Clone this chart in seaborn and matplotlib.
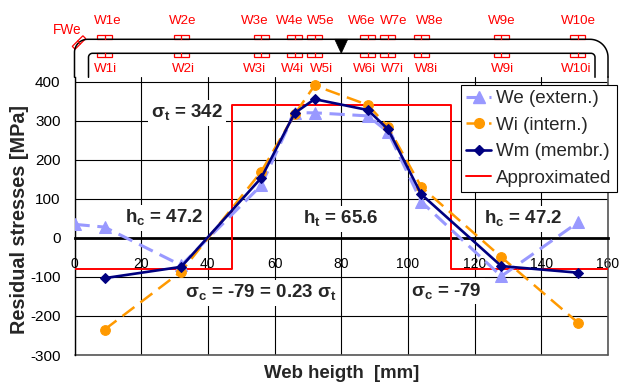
import numpy as np
import pandas as pd
import matplotlib
matplotlib.use("Agg")
import matplotlib.pyplot as plt
import seaborn as sns
from matplotlib.patches import Rectangle, Polygon
from matplotlib.lines import Line2D

# ---------------- data ----------------
x_we = [0, 9, 32, 56, 66, 72, 88, 94, 104, 128, 151]
we_vals = [35, 28, -70, 135, 321, 321, 313, 272, 93, -98, 40]
x_w = [9, 32, 56, 66, 72, 88, 94, 104, 128, 151]
wi_vals = [-235, -86, 170, 317, 391, 341, 285, 131, -49, -217]
wm_vals = [-103, -74, 154, 320, 356, 328, 279, 112, -72, -89]

h_c = 47.2
h_t = 65.6
sigma_t = 342
sigma_c = -79
approx_x = [0, h_c, h_c, h_c + h_t, h_c + h_t, 2 * h_c + h_t]
approx_y = [sigma_c, sigma_c, sigma_t, sigma_t, sigma_c, sigma_c]

gauge_names = ["W1", "W2", "W3", "W4", "W5", "W6", "W7", "W8", "W9", "W10"]
gauge_x = x_w

x_ticks = list(range(0, 161, 20))
y_ticks = list(range(-300, 401, 100))

series_labels = ["We (extern.)", "Wi (intern.)", "Wm (membr.)", "Approximated"]

# label nudges (pixels) so neighbouring gauge names do not collide
e_shift = [3, 1.5, -6, -5, 6, -6, 6, 8, 0, 0]
i_shift = [1, 2, -6.5, -2.5, 6.5, -3, 5, 5, 1.5, -2]

# ---------------- style ----------------
sns.set_style("white")
plt.rcParams["font.family"] = ["Liberation Sans", "DejaVu Sans"]
plt.rcParams["mathtext.fontset"] = "custom"
plt.rcParams["mathtext.rm"] = "Liberation Sans"
plt.rcParams["mathtext.bf"] = "Liberation Sans:bold"

W, H = 621, 386
fig = plt.figure(figsize=(W / 100, H / 100), dpi=100)
ax_l, ax_r, ax_b, ax_t = 74.5, 608, 355, 77.3
ax = fig.add_axes([ax_l / W, 1 - ax_b / H, (ax_r - ax_l) / W, (ax_b - ax_t) / H])
ax.set_facecolor("white")

c_we = "#9999FF"
c_wi = "#FF9900"
c_wm = "#000080"
c_ap = "#FF0000"

df_we = pd.DataFrame({"x": x_we, "y": we_vals})
df_w = pd.DataFrame({"x": x_w, "wi": wi_vals, "wm": wm_vals})

we_ls = (0, (5, 2.5))
wi_ls = (0, (6, 3))
sns.lineplot(data=df_we, x="x", y="y", ax=ax, color=c_we, lw=2.2,
             linestyle=we_ls, marker="^", markersize=8,
             markeredgecolor=c_we, errorbar=None, zorder=5)
sns.lineplot(data=df_w, x="x", y="wi", ax=ax, color=c_wi, lw=1.8,
             linestyle=wi_ls, marker="o", markersize=7,
             markeredgecolor=c_wi, errorbar=None, zorder=6)
sns.lineplot(data=df_w, x="x", y="wm", ax=ax, color=c_wm, lw=1.9,
             marker="D", markersize=5, markeredgecolor=c_wm,
             errorbar=None, zorder=7)
ax.plot(approx_x, approx_y, color=c_ap, lw=1.4, zorder=4)

ax.set_xlim(0, 160)
ax.set_ylim(-300, 412)
ax.set_xticks(x_ticks)
ax.set_yticks(y_ticks)
ax.set_xticklabels([str(v) for v in x_ticks], fontsize=11)
ax.set_yticklabels([str(v) for v in y_ticks], fontsize=11)
ax.grid(True, color="black", lw=0.8, zorder=0)
ax.set_axisbelow(True)
ax.axhline(-300, color="#555555", lw=1.2, clip_on=False, zorder=1)
ax.axvline(160, color="#555555", lw=1.2, clip_on=False, zorder=1)

for s in ["top", "right"]:
    ax.spines[s].set_visible(False)
ax.spines["bottom"].set_position(("data", 0))
ax.spines["bottom"].set_linewidth(2)
ax.spines["bottom"].set_color("black")
ax.spines["left"].set_linewidth(1)
ax.spines["left"].set_color("black")
ax.tick_params(axis="x", direction="out", length=4, width=1, pad=10, colors="black")
ax.tick_params(axis="y", direction="out", length=5, width=1, pad=5, colors="black")
ax.set_xlabel("")
ax.set_ylabel("")

fig.text(20 / W, 1 - 220 / H, "Residual stresses [MPa]", rotation=90,
         fontsize=14.3, fontweight="bold", ha="center", va="center")
fig.text(341.5 / W, 1 - 374 / H, "Web heigth  [mm]",
         fontsize=13.4, fontweight="bold", ha="center", va="center")

# annotations
box = dict(facecolor="white", edgecolor="none", pad=2)
akw = dict(fontsize=13.5, fontweight="bold", ha="center", va="center", zorder=3, bbox=box)
ax.text(33.7, 320, r"σ$_\mathbf{t}$ = %d" % sigma_t, **akw)
ax.text(26.8, 52, r"h$_\mathbf{c}$ = %.1f" % h_c, **akw)
ax.text(80, 48, r"h$_\mathbf{t}$ = %.1f" % h_t, **akw)
ax.text(134.6, 48, r"h$_\mathbf{c}$ = %.1f" % h_c, **akw)
ax.text(55.8, -141, r"σ$_\mathbf{c}$ = %d = %.2f σ$_\mathbf{t}$" % (sigma_c, abs(sigma_c) / sigma_t), **akw)
ax.text(111.6, -137, r"σ$_\mathbf{c}$ = %d" % sigma_c, **akw)

# legend
handles = [
    Line2D([], [], color=c_we, lw=2.2, linestyle=we_ls, marker="^", markersize=8),
    Line2D([], [], color=c_wi, lw=1.8, linestyle=wi_ls, marker="o", markersize=7),
    Line2D([], [], color=c_wm, lw=1.9, marker="D", markersize=5),
    Line2D([], [], color=c_ap, lw=1.4),
]
leg = ax.legend(handles, series_labels, loc="upper right",
                bbox_to_anchor=(616.5 / W, 1 - 85 / H), bbox_transform=fig.transFigure,
                fontsize=13.5, frameon=True, fancybox=False, framealpha=1,
                edgecolor="black", borderaxespad=0, handlelength=1.35,
                handletextpad=0.25, labelspacing=0.5, borderpad=0.28)
leg.get_frame().set_linewidth(0.8)
leg.set_zorder(10)

# ---------------- schematic above the plot ----------------
def py(y):
    return 1 - y / H

def px(x):
    return x / W

tf = fig.transFigure
red = "#FF0000"
y_out, y_in = 39.3, 53.3
r1 = 13
r2 = 18
t = np.linspace(0, np.pi / 2, 20)
xs = [ax_l] + list(ax_l + r1 - r1 * np.cos(t)) + list(ax_r - r2 + r2 * np.sin(t)) + [ax_r]
ys = [ax_t] + list(y_out + r1 - r1 * np.sin(t)) + list(y_out + r2 - r2 * np.cos(t)) + [ax_t]
fig.add_artist(Line2D([px(v) for v in xs], [py(v) for v in ys], color="black", lw=1.1, transform=tf))
ri = 4
xl, xr = 88.5, 595
xs = [xl] + list(xl + ri - ri * np.cos(t)) + list(xr - ri + ri * np.sin(t)) + [xr]
ys = [ax_t] + list(y_in + ri - ri * np.sin(t)) + list(y_in + ri - ri * np.cos(t)) + [ax_t]
fig.add_artist(Line2D([px(v) for v in xs], [py(v) for v in ys], color="black", lw=1.1, transform=tf))

xm = 80
xm_px = ax.transData.transform((xm, 0))[0]
tri = Polygon([[px(xm_px - 6.5), py(y_out)], [px(xm_px + 6.5), py(y_out)], [px(xm_px), py(y_in)]],
              closed=True, facecolor="black", edgecolor="black", lw=0.5, transform=tf)
fig.add_artist(tri)

bw, bh = 15, 4
for name, gx, es, is_ in zip(gauge_names, gauge_x, e_shift, i_shift):
    gpx = ax.transData.transform((gx, 0))[0]
    for yb, lab, ly, sh in [(y_out - bh, name + "e", 21, es), (y_in, name + "i", 69, is_)]:
        fig.add_artist(Rectangle((px(gpx - bw / 2), py(yb + bh)), bw / W, bh / H,
                                 fill=False, edgecolor=red, lw=0.9, transform=tf))
        fig.add_artist(Line2D([px(gpx), px(gpx)], [py(yb), py(yb + bh)], color=red, lw=0.9, transform=tf))
        fig.text(px(gpx + sh), py(ly), lab, color=red, fontsize=9.6, ha="center", va="center")

# FWe gauge (slanted)
cx, cy = 79, 42.5
ang = np.deg2rad(45)
L, Wd = 15, 4
u = np.array([np.cos(ang), -np.sin(ang)])
v = np.array([np.sin(ang), np.cos(ang)])
c = np.array([cx, cy])
corners = [c - u * L / 2 - v * Wd / 2, c + u * L / 2 - v * Wd / 2,
           c + u * L / 2 + v * Wd / 2, c - u * L / 2 + v * Wd / 2]
fig.add_artist(Polygon([[px(p[0]), py(p[1])] for p in corners], closed=True,
                       fill=False, edgecolor=red, lw=0.9, transform=tf))
m1, m2 = c - v * Wd / 2, c + v * Wd / 2
fig.add_artist(Line2D([px(m1[0]), px(m2[0])], [py(m1[1]), py(m2[1])], color=red, lw=0.9, transform=tf))
fig.text(px(67.2), py(30.5), "FWe", color=red, fontsize=9.8, ha="center", va="center")

fig.savefig("out.png", dpi=100)
